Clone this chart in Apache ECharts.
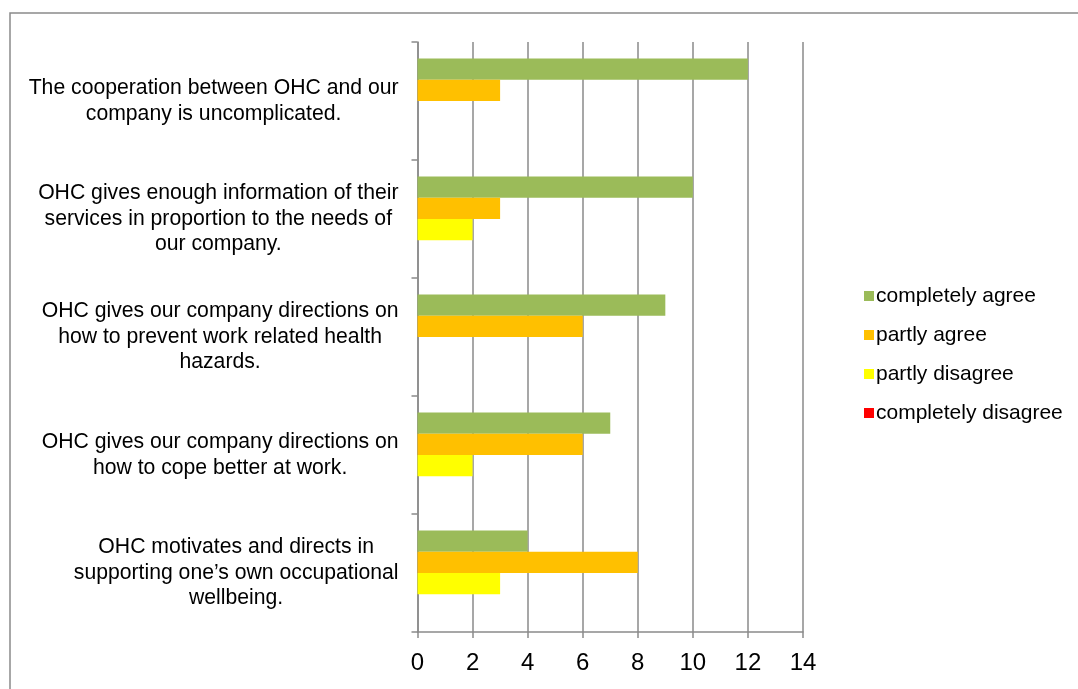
<!DOCTYPE html>
<html>
<head>
<meta charset="utf-8">
<script src="https://cdn.jsdelivr.net/npm/echarts@6/dist/echarts.min.js"></script>
<style>
  html, body { margin: 0; padding: 0; background: #ffffff; }
  #chart { width: 1078px; height: 689px; }
</style>
</head>
<body>
<div id="chart"></div>
<script>
// Survey statements (top to bottom), with manual line breaks
const statements = [
  'The cooperation between OHC and our\ncompany is uncomplicated.',
  'OHC gives enough information of their\nservices in proportion to the needs of\nour company.',
  'OHC gives our company directions on\nhow to prevent work related health\nhazards.',
  'OHC gives our company directions on\nhow to cope better at work.',
  'OHC motivates and directs in\nsupporting one\u2019s own occupational\nwellbeing.'
];

// Answer counts per statement
const completelyAgree    = [12, 10, 9, 7, 4];
const partlyAgree        = [3, 3, 6, 6, 8];
const partlyDisagree     = [0, 2, 0, 2, 3];
const completelyDisagree = [0, 0, 0, 0, 0];

const seriesNames = ['completely agree', 'partly agree', 'partly disagree', 'completely disagree'];
const seriesColors = ['#9BBB59', '#FFC000', '#FFFF00', '#FF0000'];
const seriesData = [completelyAgree, partlyAgree, partlyDisagree, completelyDisagree];

const axisValues = [0, 2, 4, 6, 8, 10, 12, 14];

const gray = '#8a8a8a';
const font = 'Arial, "Liberation Sans", sans-serif';

const chart = echarts.init(document.getElementById('chart'), null, { renderer: 'canvas' });

chart.setOption({
  animation: false,
  backgroundColor: '#ffffff',
  graphic: [{
    type: 'rect',
    left: 7.5, top: 10.5,
    shape: { width: 1200, height: 1000 },
    style: { fill: 'none', stroke: gray, lineWidth: 1.5 },
    silent: true
  }],
  legend: {
    orient: 'vertical',
    left: 859,
    top: 279,
    itemWidth: 10,
    itemHeight: 10,
    itemGap: 15,
    icon: 'rect',
    textStyle: { fontFamily: font, fontSize: 21, color: '#000', lineHeight: 24, padding: [0, 0, 0, -3] },
    data: seriesNames
  },
  grid: {
    left: 417.5,
    right: 275,
    top: 42,
    bottom: 57,
    containLabel: false
  },
  xAxis: {
    type: 'value',
    min: axisValues[0],
    max: axisValues[axisValues.length - 1],
    interval: 2,
    axisLine: { show: true, lineStyle: { color: gray, width: 1.5 } },
    axisTick: { show: true, length: 6, lineStyle: { color: gray, width: 1.5 } },
    splitLine: { show: true, lineStyle: { color: gray, width: 1.5 } },
    axisLabel: { fontFamily: font, fontSize: 24, color: '#000', margin: 19 }
  },
  yAxis: {
    type: 'category',
    inverse: true,
    data: statements,
    axisLine: { show: true, lineStyle: { color: gray, width: 1.5 } },
    axisTick: { show: true, length: 6, lineStyle: { color: gray, width: 1.5 } },
    axisLabel: {
      fontFamily: font,
      fontSize: 21.2,
      color: '#000',
      margin: 19,
      align: 'right',
      formatter: function (v) {
        return v.split('\n').map(function (l) { return '{c|' + l + '}'; }).join('\n');
      },
      rich: {
        c: { align: 'center', fontFamily: font, fontSize: 21.2, lineHeight: 25.5, color: '#000' }
      }
    }
  },
  series: seriesNames.map(function (name, i) {
    return {
      name: name,
      type: 'bar',
      data: seriesData[i],
      barGap: '0%',
      barCategoryGap: '28%',
      itemStyle: { color: seriesColors[i] }
    };
  })
});
</script>
</body>
</html>
